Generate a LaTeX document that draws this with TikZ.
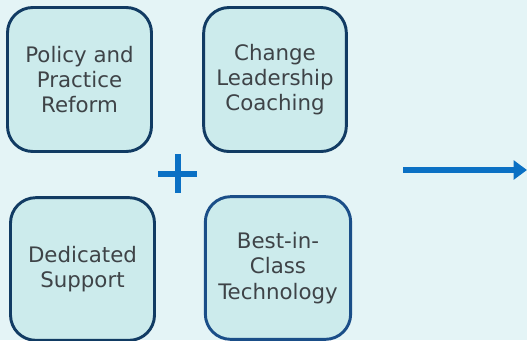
\documentclass[tikz,border=0pt]{standalone}
\usepackage{fontspec}
\setmainfont{DejaVu Sans}
\usetikzlibrary{arrows.meta}

\definecolor{bgcol}{HTML}{E4F4F6}
\definecolor{boxfill}{HTML}{CCEBEC}
\definecolor{boxline}{HTML}{113B63}
\definecolor{boxlinetwo}{HTML}{1A4E88}
\definecolor{txtcol}{HTML}{3E4347}
\definecolor{accent}{HTML}{0A70C4}

\begin{document}
\begin{tikzpicture}[x=0.75pt,y=-0.75pt,
        part/.style={rectangle,draw=boxline,line width=2.2pt,fill=boxfill,
            rounded corners=19pt,align=center,text=txtcol,
            font=\fontsize{16pt}{19pt}\selectfont,inner sep=0pt},
        thick arrow/.style={accent,line width=4.8pt,-{Triangle[length=10pt,width=14pt]}}]
        \useasboundingbox (0,0) rectangle (527,340);
        \fill[bgcol] (0,0) rectangle (527,340);

        \node[part,minimum width=108pt,minimum height=108pt] (policy) at (79.5,79.5) {Policy and\\Practice\\Reform};
        \node[part,minimum width=107pt,minimum height=108pt] (change) at (275,79.5) {Change\\Leadership\\Coaching};
        \node[part,minimum width=108pt,minimum height=107pt] (support) at (82.5,269) {Dedicated\\Support};
        \node[part,draw=boxlinetwo,minimum width=109pt,minimum height=107pt] (tech) at (278,268) {Best-in-\\Class\\Technology};

        % plus sign between the four parts
        \coordinate (plus) at (178,174);
        \draw[accent,line width=4.5pt] ([xshift=-15pt]plus) -- ([xshift=14.5pt]plus)
                                       ([yshift=15pt]plus) -- ([yshift=-14pt]plus);

        \coordinate (arrowstart) at (403,170);
        \coordinate (arrowend) at (527,170);
        \draw[thick arrow] (arrowstart) -- (arrowend);

    \end{tikzpicture}
\end{document}
